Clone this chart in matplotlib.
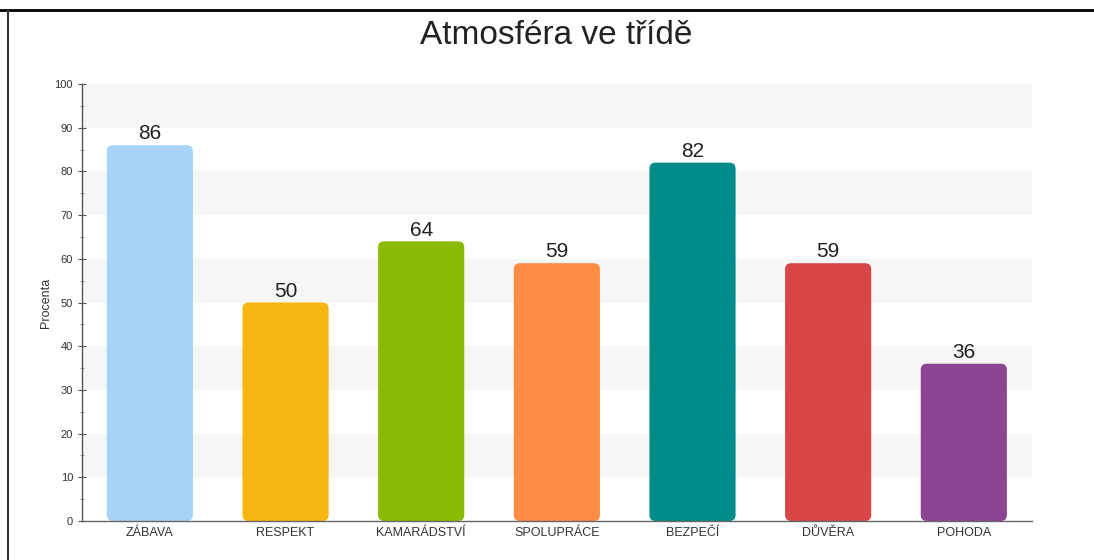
import matplotlib
matplotlib.use("Agg")
import matplotlib.pyplot as plt
from matplotlib.patches import FancyBboxPatch
from matplotlib.lines import Line2D
from matplotlib.ticker import MultipleLocator

plt.rcParams['font.family'] = ['Liberation Sans', 'DejaVu Sans']

categories = ['ZÁBAVA', 'RESPEKT', 'KAMARÁDSTVÍ', 'SPOLUPRÁCE', 'BEZPEČÍ', 'DŮVĚRA', 'POHODA']
values = [86, 50, 64, 59, 82, 59, 36]
colors = ['#a8d3f7', '#f6b713', '#8bba02', '#fd8c45', '#018b8a', '#d94646', '#8c4592']
title = 'Atmosféra ve třídě'
ylabel = 'Procenta'

fig = plt.figure(figsize=(10.94, 5.6), dpi=100)
ax = fig.add_axes([0.075, 0.0696, 0.868, 0.7804])

x = list(range(len(categories)))
ax.set_xlim(-0.5, len(categories) - 0.5)
ax.set_ylim(0, 100)

# alternating bands
for lo in range(10, 100, 20):
    ax.axhspan(lo, lo + 10, color='#f6f6f6', zorder=0, lw=0)

bars = ax.bar(x, values, width=0.635, color=colors, zorder=2)
# round corners
px_per_x = 950 / 7.0
px_per_y = 437 / 100.0
aspect = px_per_x / px_per_y
for rect, c in zip(bars.patches, colors):
    rect.set_visible(False)
    fb = FancyBboxPatch((rect.get_x(), rect.get_y()), rect.get_width(), rect.get_height(),
                        boxstyle="round,pad=0,rounding_size=0.045",
                        mutation_aspect=aspect, facecolor=c, edgecolor='none', zorder=2)
    ax.add_patch(fb)

for xi, v in zip(x, values):
    ax.text(xi, v + 0.4, str(v), ha='center', va='bottom', fontsize=15, color='#222222')

ax.set_xticks(x)
ax.set_xticklabels(categories, fontsize=9, color='#333333')
ax.yaxis.set_major_locator(MultipleLocator(10))
ax.yaxis.set_minor_locator(MultipleLocator(5))
ax.tick_params(axis='y', labelsize=8, colors='#555555', direction='inout', length=6, width=0.8)
ax.tick_params(axis='y', which='minor', direction='inout', length=3, width=0.6, color='#888888')
ax.tick_params(axis='x', direction='in', length=4, color='#777777', pad=4)
for lbl in ax.get_yticklabels():
    lbl.set_color('#333333')

for s in ['top', 'right']:
    ax.spines[s].set_visible(False)
ax.spines['left'].set_color('#555555')
ax.spines['bottom'].set_color('#666666')
ax.spines['left'].set_linewidth(1.0)
ax.spines['bottom'].set_linewidth(1.0)

ax.set_ylabel(ylabel, fontsize=9, color='#333333', labelpad=2)
fig.text(0.508, 0.937, title, ha='center', va='center', fontsize=24, color='#222222')

# frame lines from the screenshot
fig.add_artist(Line2D([0, 1], [1 - 9.5 / 560, 1 - 9.5 / 560], color='black', lw=2, transform=fig.transFigure))
fig.add_artist(Line2D([8 / 1094, 8 / 1094], [0, 1 - 9.5 / 560], color='#333333', lw=1.5, transform=fig.transFigure))

fig.savefig('out.png', dpi=100)
